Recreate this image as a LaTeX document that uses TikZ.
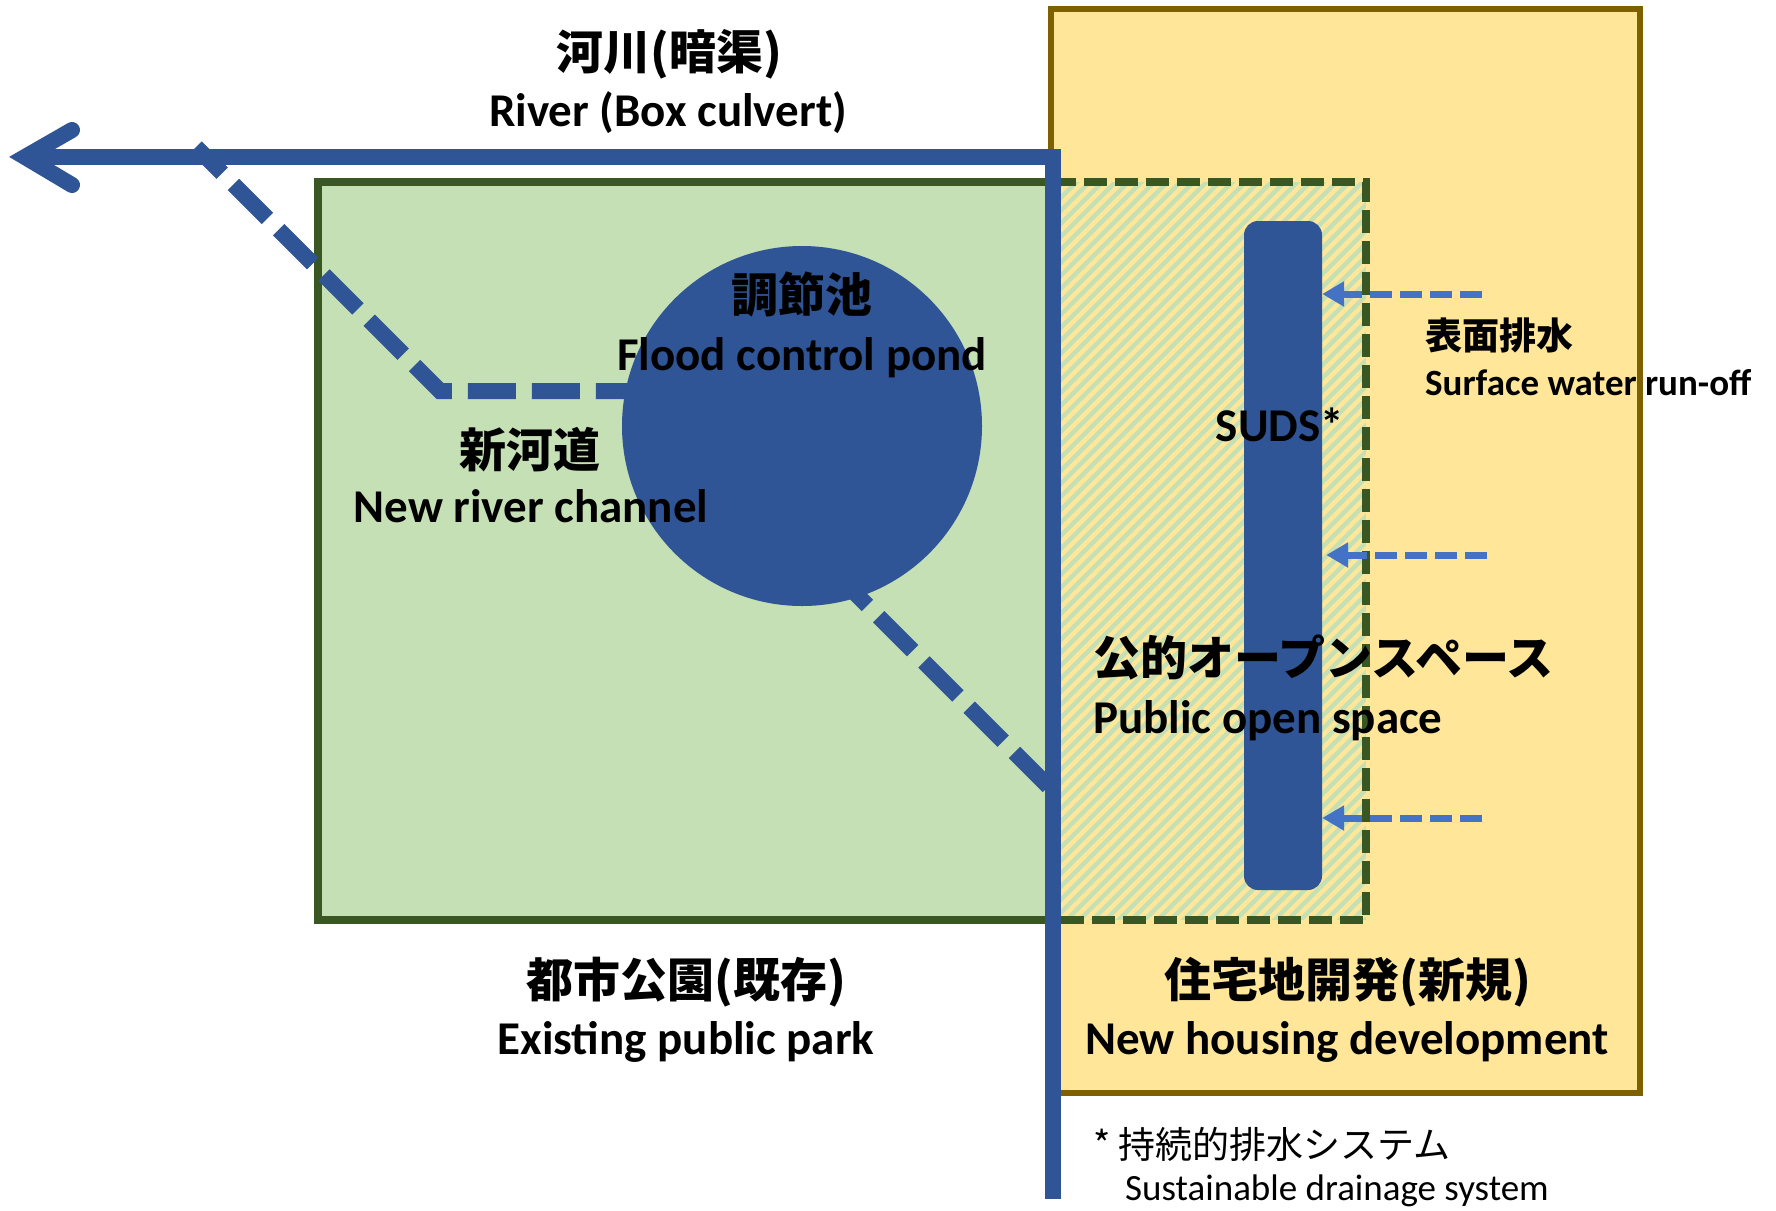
\documentclass[tikz,border=0pt]{standalone}
\usepackage{fontspec}
\setmainfont{Carlito}
\newfontfamily\jpfont{Noto Sans CJK JP}
\usetikzlibrary{arrows.meta}
\definecolor{riverblue}{HTML}{2F5597}
\definecolor{runoffblue}{HTML}{4472C4}
\definecolor{parkgreen}{HTML}{C5E0B4}
\definecolor{parkedge}{HTML}{385723}
\definecolor{housefill}{HTML}{FFE699}
\definecolor{houseedge}{HTML}{7F6000}
\begin{document}
\begin{tikzpicture}[x=1pt,y=-1pt,
  lbl/.style={inner sep=0pt, text=black},
  enbig/.style={lbl, font=\fontsize{47}{56}\selectfont\bfseries},
  jpbig/.style={lbl, font=\fontsize{47}{56}\selectfont\jpfont\bfseries},
  ensmall/.style={lbl, font=\fontsize{37}{44}\selectfont\bfseries},
  jpsmall/.style={lbl, font=\fontsize{37}{44}\selectfont\jpfont\bfseries},
  ennote/.style={lbl, font=\fontsize{37}{44}\selectfont},
  jpnote/.style={lbl, font=\fontsize{37}{44}\selectfont\jpfont},
  riverline/.style={draw=riverblue, line width=16pt, line join=miter},
  channel/.style={draw=riverblue, line width=16pt, line join=miter, dash pattern=on 48pt off 16pt},
  parkborder/.style={draw=parkedge, line width=7.5pt, line join=miter},
  parkdashed/.style={parkborder, dash pattern=on 23pt off 8pt},
  runoff/.style={draw=runoffblue, line width=7pt, dash pattern=on 22pt off 8pt, -{Triangle[length=22pt,width=24pt]}},
]
\useasboundingbox (0,0) rectangle (1776,1210);
\fill[white] (0,0) rectangle (1776,1210);

% housing development area
\draw[fill=housefill, draw=houseedge, line width=6pt] (1051,9) rectangle (1640,1093);

% park area
\fill[parkgreen] (318,182) rectangle (1366,920);
\begin{scope}
  \clip (1061,182) rectangle (1366,920);
  \foreach \k in {286,299,...,1390} {
    \draw[housefill, line width=4.5pt] (\k,940) -- (\k+780,160);
  }
\end{scope}
\draw[parkborder] (1053,182) -- (318,182) -- (318,920) -- (1053,920);
\draw[parkdashed] (1053,182) -- (1366,182) -- (1366,920) -- (1053,920);

% new river channel
\coordinate (chA) at (196,147);
\coordinate (chB) at (440,391);
\coordinate (chC) at (660,391);
\coordinate (chD) at (820,558);
\coordinate (chE) at (1053,791);
\draw[channel, dash phase=11pt] (chA) -- (chB) -- (chC);
\draw[channel, dash phase=45pt] (chD) -- (chE);

% flood control pond
\node[circle, fill=riverblue, minimum size=360pt, inner sep=0pt] (pond) at (802,426) {};

% river (box culvert)
\coordinate (riverbottom) at (1053,1199);
\coordinate (riverbend) at (1053,157);
\coordinate (rivermouth) at (25,157);
\draw[riverline] (riverbottom) -- (riverbend) -- (rivermouth);
\coordinate (barbtop) at (72,130);
\coordinate (barbbot) at (72,185);
\draw[riverline, line cap=round] (barbtop) -- (rivermouth) -- (barbbot);

% SUDS
\node[fill=riverblue, rounded corners=14pt, minimum width=78pt, minimum height=669pt, inner sep=0pt] (suds) at (1283,555.5) {};

% surface water run-off arrows
\coordinate (r1) at (1482,294);
\coordinate (r2) at (1487,555);
\coordinate (r3) at (1482,818);
\draw[runoff] (r1) -- (r1 -| suds.east);
\draw[runoff] (r2) -- ([xshift=4pt]r2 -| suds.east);
\draw[runoff] (r3) -- (r3 -| suds.east);

% labels
\node[jpbig, anchor=base] (riverjp) at (669,69) {河川(暗渠)};
\node[enbig, anchor=base] (riveren) at (668,126) {River (Box culvert)};
\node[jpbig, anchor=base] (pondjp) at (802,312) {調節池};
\node[enbig, anchor=base] (ponden) at (802,370) {Flood control pond};
\node[jpbig, anchor=base] (chanjp) at (530,467) {新河道};
\node[enbig, anchor=base] (chanen) at (531,522) {New river channel};
\node[enbig, anchor=base] (sudslbl) at (1280,441) {SUDS*};
\node[jpsmall, anchor=base west] (runjp) at (1425,349) {表面排水};
\node[ensmall, anchor=base west] (runen) at (1425,395) {Surface water run-off};
\node[jpbig, anchor=base west] (openjp) at (1093,675) {公的オープンスペース};
\node[enbig, anchor=base west] (openen) at (1093,733) {Public open space};
\node[jpbig, anchor=base] (parkjp) at (686,997) {都市公園(既存)};
\node[enbig, anchor=base] (parken) at (686,1054) {Existing public park};
\node[jpbig, anchor=base] (housejp) at (1348,997) {住宅地開発(新規)};
\node[enbig, anchor=base] (houseen) at (1347,1054) {New housing development};
\node[jpnote, anchor=base west] (notejp) at (1093,1158) {* 持続的排水システム};
\node[ennote, anchor=base west] (noteen) at (1125,1200) {Sustainable drainage system};
\end{tikzpicture}
\end{document}
